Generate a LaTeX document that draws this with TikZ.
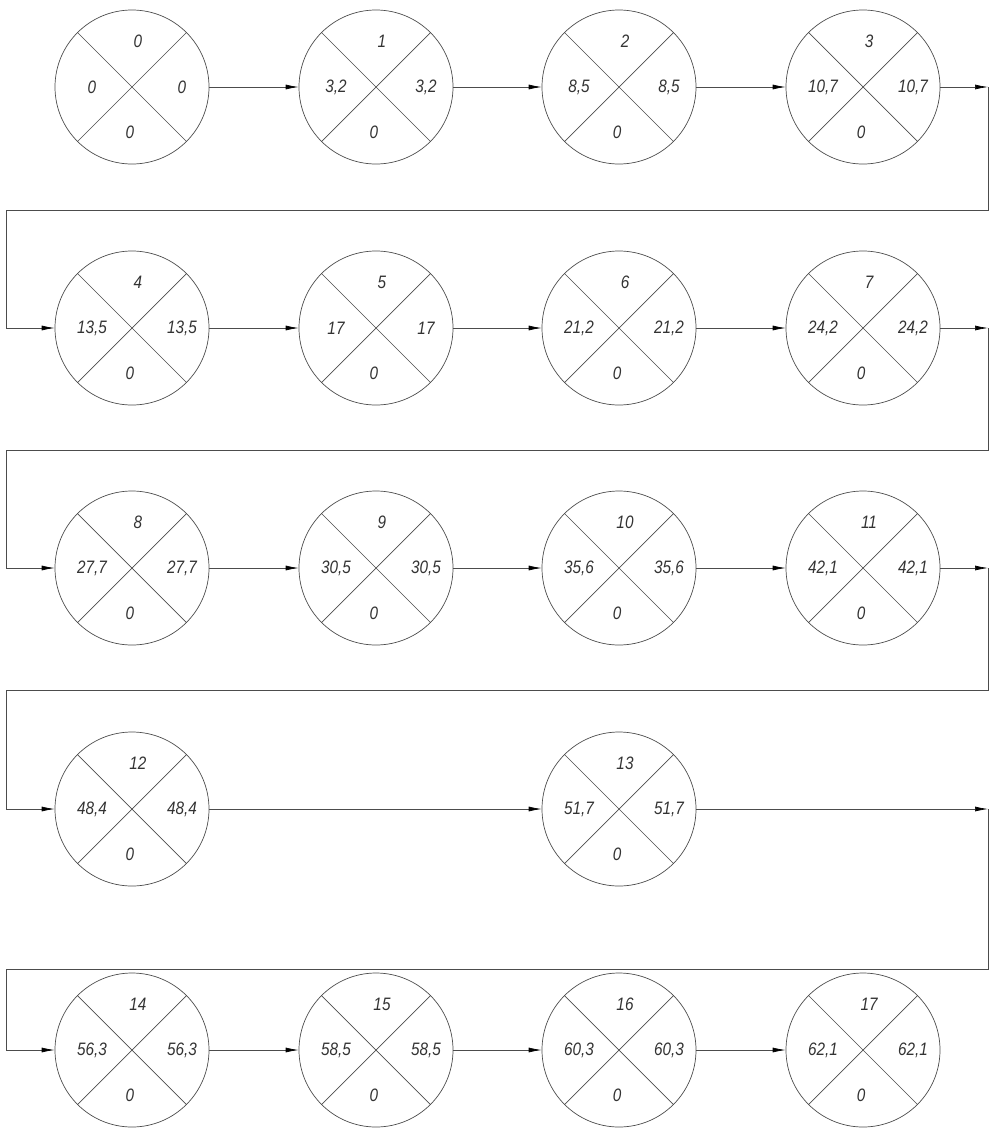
\documentclass[tikz,border=0pt]{standalone}
\usepackage{fontspec}
\newfontfamily\gostfont[FakeStretch=0.85]{Liberation Sans}
\usepackage{tikz}
\usetikzlibrary{positioning, arrows.meta}

\begin{document}
\begin{tikzpicture}[
  x=1pt, y=-1pt,
  line width=0.7pt, draw=black!70,
  event/.style={circle, draw=black!70, minimum size=154pt, inner sep=0pt},
  num/.style={font=\gostfont\itshape\fontsize{18}{18}\selectfont, text=black!80, inner sep=0pt},
  >={Latex[length=13pt, width=5pt, black]}  % thin black tips
]
  \useasboundingbox (0,0) rectangle (994,1130);

  % --- events: x / y / number / time ---
  \foreach \px/\py/\n/\t in {
      132/87/0/0,       376/87/1/{3,2},    619/87/2/{8,5},    863/87/3/{10,7},
      132/328/4/{13,5}, 376/328/5/17,      619/328/6/{21,2},  863/328/7/{24,2},
      132/568/8/{27,7}, 376/568/9/{30,5},  619/568/10/{35,6}, 863/568/11/{42,1},
      132/809/12/{48,4},                   619/809/13/{51,7},
      132/1050/14/{56,3}, 376/1050/15/{58,5}, 619/1050/16/{60,3}, 863/1050/17/{62,1}} {
    \node[event] (e\n) at (\px,\py) {};
    \draw (e\n.north west) -- (e\n.south east);
    \draw (e\n.north east) -- (e\n.south west);
    \node[num] (e\n-top) at ([xshift=6pt, yshift=46pt]e\n.center) {\n};
    \node[num] (e\n-lft) at ([xshift=-40pt]e\n.center) {\t};
    \node[num] (e\n-rgt) at ([xshift=50pt]e\n.center) {\t};
    \node[num] (e\n-bot) at ([xshift=-2pt, yshift=-45pt]e\n.center) {0};
  }

  % --- turning points at the edges ---
  \coordinate (r1) at (988,87);   \coordinate (l1) at (6,210);
  \coordinate (r2) at (988,328);  \coordinate (l2) at (6,450);
  \coordinate (r3) at (988,568);  \coordinate (l3) at (6,690);
  \coordinate (r4) at (988,809);  \coordinate (l4) at (6,969);

  % --- arrows ---
  \draw[->] (e0) -- (e1);
  \draw[->] (e1) -- (e2);
  \draw[->] (e2) -- (e3);
  \draw[->] (e3) -- (r1);
  \draw[->] (r1) |- (l1) |- (e4);
  \draw[->] (e4) -- (e5);
  \draw[->] (e5) -- (e6);
  \draw[->] (e6) -- (e7);
  \draw[->] (e7) -- (r2);
  \draw[->] (r2) |- (l2) |- (e8);
  \draw[->] (e8) -- (e9);
  \draw[->] (e9) -- (e10);
  \draw[->] (e10) -- (e11);
  \draw[->] (e11) -- (r3);
  \draw[->] (r3) |- (l3) |- (e12);
  \draw[->] (e12) -- (e13);
  \draw[->] (e13) -- (r4);
  \draw[->] (r4) |- (l4) |- (e14);
  \draw[->] (e14) -- (e15);
  \draw[->] (e15) -- (e16);
  \draw[->] (e16) -- (e17);
\end{tikzpicture}
\end{document}
